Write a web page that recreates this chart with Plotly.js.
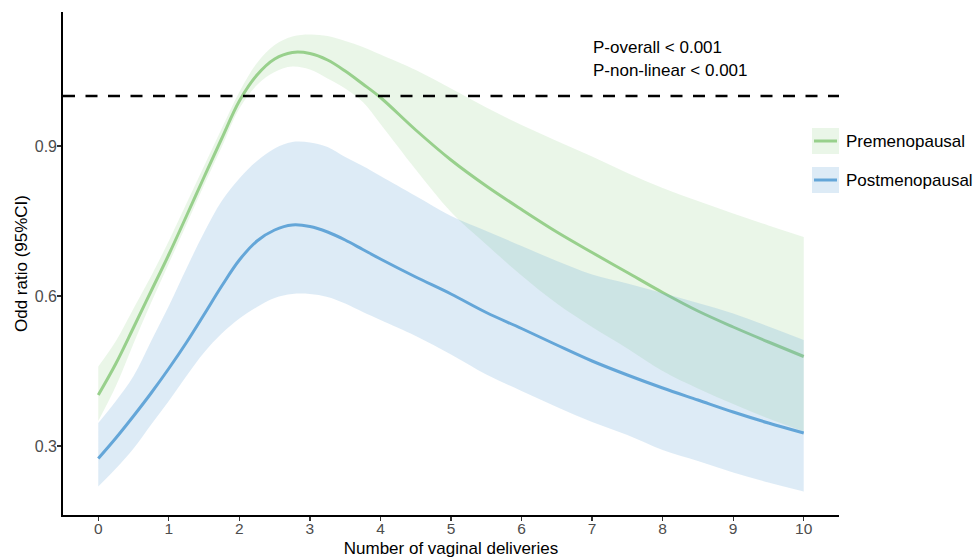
<!DOCTYPE html>
<html>
<head>
<meta charset="utf-8">
<script src="https://cdn.plot.ly/plotly-3.0.1.min.js"></script>
<style>html,body{margin:0;padding:0;background:#fff;}#chart{width:974px;height:559px;}</style>
</head>
<body>
<div id="chart"></div>
<script>
// Number of vaginal deliveries
const xVals = [0, 0.25, 0.5, 0.75, 1, 1.25, 1.5, 1.75, 2, 2.25, 2.5, 2.75, 3, 3.25, 3.5, 3.75, 4, 4.5, 5, 5.5, 6, 6.5, 7, 7.5, 8, 8.5, 9, 9.5, 10];
// Premenopausal odds ratio and 95% CI
const preOR    = [0.402, 0.465, 0.537, 0.61, 0.683, 0.76, 0.838, 0.915, 0.99, 1.042, 1.074, 1.087, 1.085, 1.072, 1.05, 1.024, 0.997, 0.932, 0.872, 0.82, 0.773, 0.728, 0.687, 0.647, 0.607, 0.57, 0.538, 0.508, 0.479];
const preUpper = [0.459, 0.51, 0.575, 0.64, 0.71, 0.785, 0.86, 0.935, 1.008, 1.066, 1.102, 1.119, 1.123, 1.12, 1.11, 1.098, 1.083, 1.052, 1.015, 0.977, 0.942, 0.91, 0.879, 0.846, 0.816, 0.79, 0.765, 0.741, 0.718];
const preLower = [0.35, 0.42, 0.505, 0.587, 0.665, 0.743, 0.822, 0.898, 0.975, 1.022, 1.048, 1.059, 1.053, 1.035, 1.015, 0.988, 0.944, 0.853, 0.768, 0.703, 0.641, 0.585, 0.538, 0.495, 0.45, 0.415, 0.384, 0.355, 0.329];
// Postmenopausal odds ratio and 95% CI
const postOR    = [0.275, 0.316, 0.36, 0.406, 0.455, 0.507, 0.563, 0.62, 0.672, 0.71, 0.732, 0.742, 0.739, 0.728, 0.712, 0.693, 0.674, 0.638, 0.604, 0.567, 0.535, 0.502, 0.47, 0.442, 0.416, 0.392, 0.368, 0.346, 0.326];
const postUpper = [0.346, 0.39, 0.44, 0.51, 0.58, 0.655, 0.727, 0.79, 0.835, 0.87, 0.895, 0.908, 0.907, 0.898, 0.878, 0.86, 0.84, 0.80, 0.76, 0.73, 0.70, 0.67, 0.643, 0.625, 0.606, 0.586, 0.565, 0.539, 0.512];
const postLower = [0.219, 0.255, 0.295, 0.343, 0.39, 0.44, 0.487, 0.525, 0.555, 0.578, 0.596, 0.604, 0.604, 0.598, 0.585, 0.568, 0.552, 0.52, 0.483, 0.443, 0.41, 0.378, 0.348, 0.322, 0.292, 0.27, 0.247, 0.227, 0.209];

const xTicks = [0, 1, 2, 3, 4, 5, 6, 7, 8, 9, 10];
const yTicks = [0.3, 0.6, 0.9];
const yTickText = ['0.3', '0.6', '0.9'];
const seriesNames = ['Premenopausal', 'Postmenopausal'];
const pText = ['P-overall &lt; 0.001', 'P-non-linear &lt; 0.001'];
const refOR = 1;

const GREEN = 'rgb(152,208,140)';
const BLUE = 'rgb(100,166,216)';
const GREEN_FILL = 'rgba(152,208,140,0.2)';
const BLUE_FILL = 'rgba(100,166,216,0.22)';
const FONT = 'Liberation Sans, Arial, Helvetica, sans-serif';

function edge(y, fill, fillcolor) {
  return {x: xVals, y: y, type: 'scatter', mode: 'lines', fill: fill, fillcolor: fillcolor,
    line: {width: 0, shape: 'spline', smoothing: 1, color: 'rgba(0,0,0,0)'}, hoverinfo: 'skip', showlegend: false};
}
function line(y, color, name) {
  return {x: xVals, y: y, type: 'scatter', mode: 'lines', name: name,
    line: {color: color, width: 3, shape: 'spline', smoothing: 1}, showlegend: false};
}

const traces = [
  edge(preLower, 'none'),
  edge(preUpper, 'tonexty', GREEN_FILL),
  line(preOR, GREEN, seriesNames[0]),
  edge(postLower, 'none'),
  edge(postUpper, 'tonexty', BLUE_FILL),
  line(postOR, BLUE, seriesNames[1])
];

const plotL = 63, plotR = 839, plotT = 12, plotB = 515;
const pw = plotR - plotL, ph = plotB - plotT;
const px = v => (v - plotL) / pw;
const py = v => (plotB - v) / ph;

const layout = {
  width: 974, height: 559,
  margin: {l: plotL, r: 974 - plotR, t: plotT, b: 559 - plotB},
  paper_bgcolor: '#fff', plot_bgcolor: '#fff',
  font: {family: FONT, size: 17, color: '#000'},
  showlegend: false,
  xaxis: {
    range: [-0.5, 10.5], tickvals: xTicks, ticktext: xTicks.map(String),
    showgrid: false, zeroline: false, showline: true, linecolor: '#000', linewidth: 1.8,
    ticks: 'outside', ticklen: 4, tickwidth: 1.2, tickcolor: '#333', ticklabelstandoff: -5,
    tickfont: {family: FONT, size: 15.5, color: '#4d4d4d'},
    title: {text: 'Number of vaginal deliveries', font: {family: FONT, size: 17, color: '#000'}, standoff: 6},
    automargin: false
  },
  yaxis: {
    range: [0.162, 1.168], tickvals: yTicks, ticktext: yTickText,
    showgrid: false, zeroline: false, showline: true, linecolor: '#000', linewidth: 1.8,
    ticks: 'outside', ticklen: 4, tickwidth: 1.2, tickcolor: '#333', ticklabelstandoff: -3,
    tickfont: {family: FONT, size: 16, color: '#4d4d4d'},
    title: {text: 'Odd ratio (95%CI)', font: {family: FONT, size: 17, color: '#000'}, standoff: 3},
    automargin: false
  },
  shapes: [
    {type: 'line', xref: 'paper', yref: 'y', x0: 0, x1: 1, y0: refOR, y1: refOR,
     line: {color: '#000', width: 2.5, dash: '12px,10.5px'}},
    {type: 'rect', xref: 'paper', yref: 'paper', x0: px(812), x1: px(839), y0: py(154), y1: py(128),
     fillcolor: GREEN_FILL, line: {width: 0}},
    {type: 'line', xref: 'paper', yref: 'paper', x0: px(814), x1: px(837), y0: py(141), y1: py(141),
     line: {color: GREEN, width: 3}},
    {type: 'rect', xref: 'paper', yref: 'paper', x0: px(812), x1: px(839), y0: py(193), y1: py(167),
     fillcolor: BLUE_FILL, line: {width: 0}},
    {type: 'line', xref: 'paper', yref: 'paper', x0: px(814), x1: px(837), y0: py(180), y1: py(180),
     line: {color: BLUE, width: 3}}
  ],
  annotations: [
    {text: pText[0], xref: 'paper', yref: 'paper', x: px(591), y: py(47), xanchor: 'left', yanchor: 'middle',
     showarrow: false, font: {family: FONT, size: 17, color: '#000'}},
    {text: pText[1], xref: 'paper', yref: 'paper', x: px(591), y: py(70), xanchor: 'left', yanchor: 'middle',
     showarrow: false, font: {family: FONT, size: 17, color: '#000'}},
    {text: seriesNames[0], xref: 'paper', yref: 'paper', x: px(844), y: py(142), xanchor: 'left', yanchor: 'middle',
     showarrow: false, font: {family: FONT, size: 17, color: '#000'}},
    {text: seriesNames[1], xref: 'paper', yref: 'paper', x: px(844), y: py(181), xanchor: 'left', yanchor: 'middle',
     showarrow: false, font: {family: FONT, size: 17, color: '#000'}}
  ]
};

Plotly.newPlot('chart', traces, layout, {displayModeBar: false, staticPlot: true});
</script>
</body>
</html>
